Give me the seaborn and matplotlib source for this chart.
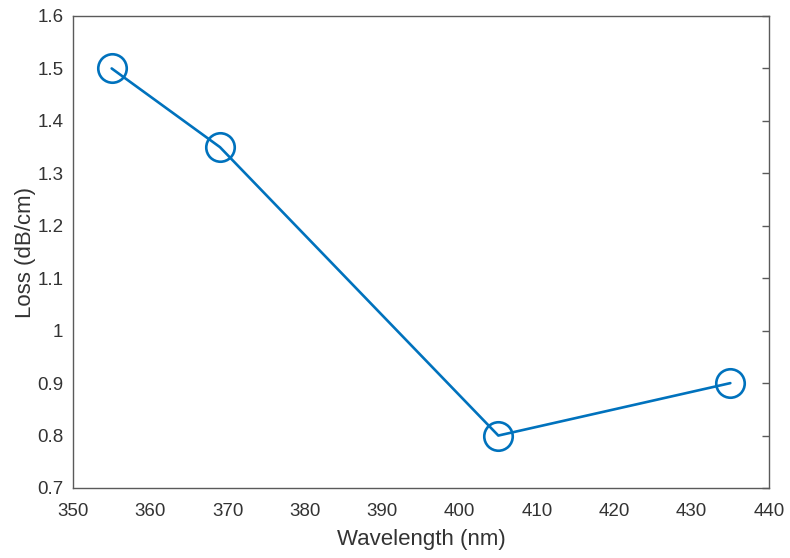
import matplotlib
matplotlib.use("Agg")
import matplotlib.pyplot as plt
import seaborn as sns
import pandas as pd

wavelength = [355, 369, 405, 435]
loss = [1.5, 1.35, 0.8, 0.9]
xticks = [350, 360, 370, 380, 390, 400, 410, 420, 430, 440]
yticks = [0.7, 0.8, 0.9, 1.0, 1.1, 1.2, 1.3, 1.4, 1.5, 1.6]
ytick_labels = ["0.7", "0.8", "0.9", "1", "1.1", "1.2", "1.3", "1.4", "1.5", "1.6"]

sns.set_style("white")
plt.rcParams['font.family'] = ['Liberation Sans', 'DejaVu Sans']

df = pd.DataFrame({"Wavelength": wavelength, "Loss": loss})

fig = plt.figure(figsize=(7.9, 5.58), dpi=100)
ax = fig.add_axes([73/790, 1-488/558, (769-73)/790, (488-16)/558])
sns.lineplot(data=df, x="Wavelength", y="Loss", ax=ax, color="#0072BD",
             linewidth=1.9, marker="o", markersize=20.5, markerfacecolor="none",
             markeredgecolor="#0072BD", markeredgewidth=1.9, sort=False)

ax.set_xlim(350, 440)
ax.set_ylim(0.7, 1.6)
ax.set_xticks(xticks)
ax.set_yticks(yticks)
ax.set_yticklabels(ytick_labels)
grey = "#5a5a5a"
for s in ax.spines.values():
    s.set_visible(True)
    s.set_color(grey)
    s.set_linewidth(1.0)
ax.tick_params(direction="in", length=5, width=1.0, colors=grey, labelsize=13.5,
               top=False, right=True, labelcolor="#333333")
ax.tick_params(axis="x", pad=10.5)
ax.tick_params(axis="y", pad=7)
ax.set_xlabel("Wavelength (nm)", fontsize=16, color="#333333", labelpad=6.5)
ax.set_ylabel("Loss (dB/cm)", fontsize=16, color="#333333", labelpad=1)

fig.savefig("out.png", dpi=100)
